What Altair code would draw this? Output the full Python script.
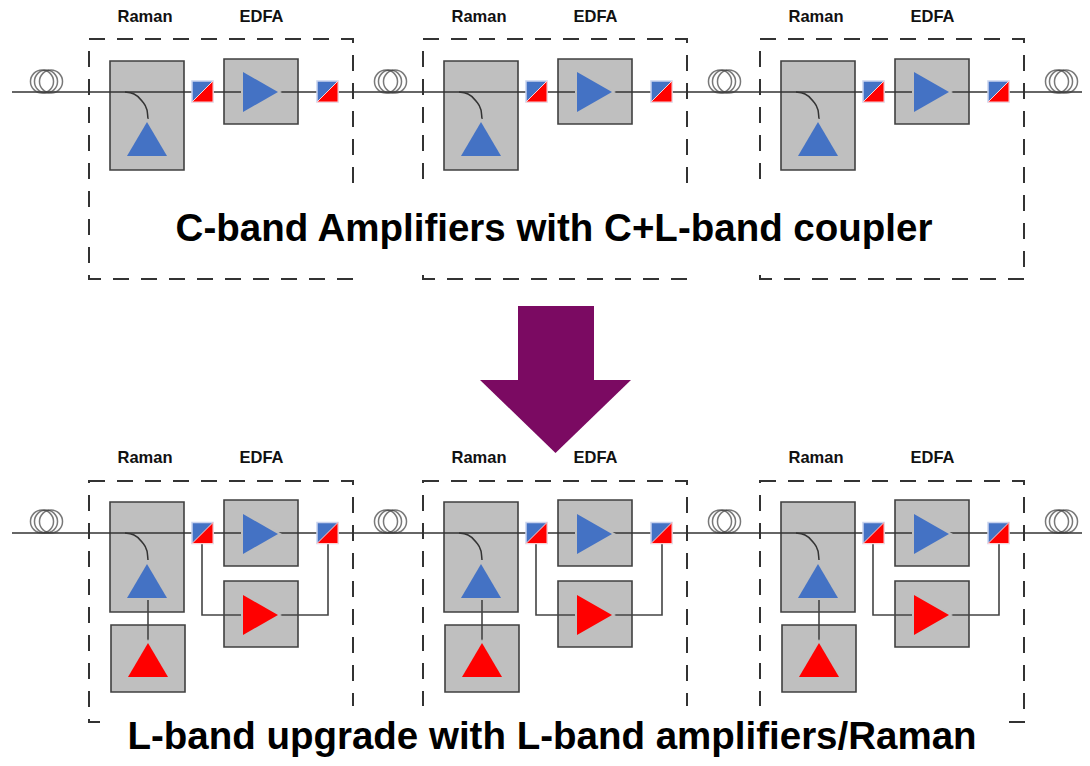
import altair as alt
import pandas as pd

# module offsets and rows
offsets = [0, 334, 671]
coil_x = [46, 390, 724, 1061]
coil_dx = [-4, 0, 5]
line_y = [92, 533]
coil_y = [81.5, 521.5]

BLUE, RED, GREY, DARK = "#4472C4", "#FF0000", "#BFBFBF", "#333333"
PURPLE = "#7B0A62"

# rectangles: x, x2, y, y2 for the first module
dash_top = (89, 353, 39, 279)
dash_bot = (89, 353, 481, 722)
grey_top = [(110, 184, 61, 170), (224, 298, 59, 124)]
grey_bot = [(110, 184, 502, 612), (224, 298, 500, 566), (224, 298, 581, 647), (111, 185, 625, 692)]
masks = [(100, 1012, 191, 267), (100, 1005, 706, 766)]
shaft = [(518, 594, 306, 381)]

split_x = [202.5, 327.5]
split_y = [91.5, 533]
split_size = 21

tri_up = [(147, 139, BLUE), (147, 581, BLUE), (148, 660, RED)]
tri_right = [(260.5, 92, BLUE), (260.5, 534, BLUE), (260.5, 615, RED)]
arrow_head = [(555.5, 416.5)]

arc_x = [125, 134, 142, 147, 148]
arc_rel_y = [0, 2, 9, 18, 27]

l_path_x = [202, 202, 328, 328]
l_path_y = [544, 615, 615, 544]
feed_x = [148, 148]
feed_y = [598, 643]

labels = [("Raman", 145, 17), ("EDFA", 261.5, 17), ("Raman", 145, 458), ("EDFA", 261.5, 458)]
titles = [("C-band Amplifiers with C+L-band coupler", 554, 229, 38.5),
          ("L-band upgrade with L-band amplifiers/Raman", 552, 737, 38.5)]

xs = alt.Scale(domain=[8, 1082], nice=False, zero=False)
ys = alt.Scale(domain=[758, 8], nice=False, zero=False)
X = alt.X("x:Q", scale=xs, axis=None)
Y = alt.Y("y:Q", scale=ys, axis=None)


def rect_df(rows):
    return pd.DataFrame(rows, columns=["x", "x2", "y", "y2"])


def rects(rows, **mark):
    return alt.Chart(rect_df(rows)).mark_rect(**mark).encode(x=X, x2="x2:Q", y=Y, y2="y2:Q")


def shift(r, d):
    return (r[0] + d, r[1] + d, r[2], r[3])


dash_rows = [shift(dash_top, d) for d in offsets] + [shift(dash_bot, d) for d in offsets]
grey_rows = [shift(r, d) for d in offsets for r in grey_top + grey_bot]

dash_layer = rects(dash_rows, fillOpacity=0, stroke=DARK, strokeWidth=2, strokeDash=[16, 12])
mask_layer = rects(masks, fill="white")
grey_layer = rects(grey_rows, fill=GREY, stroke="#404040", strokeWidth=1.6)
shaft_layer = rects(shaft, fill=PURPLE)

main_line = alt.Chart(pd.DataFrame({"x": [12] * 2, "x2": [1090] * 2, "y": line_y})).mark_rule(
    color=DARK, strokeWidth=1.5).encode(x=X, x2="x2:Q", y=Y)

coil_rows = [{"x": c + d, "y": y} for c in coil_x for d in coil_dx for y in coil_y]
coil_layer = alt.Chart(pd.DataFrame(coil_rows)).mark_point(
    shape="circle", size=531, filled=False, stroke="#404040", strokeWidth=1.5).encode(x=X, y=Y)

arc_rows = []
for r, ly in enumerate(line_y):
    for d in offsets:
        for ax, ay in zip(arc_x, arc_rel_y):
            arc_rows.append({"x": ax + d, "y": ly + ay, "k": f"{r}-{d}"})
arc_layer = alt.Chart(pd.DataFrame(arc_rows)).mark_line(
    color=DARK, strokeWidth=1.5, interpolate="monotone").encode(x=X, y=Y, detail="k:N", order=alt.Order("y:Q"))

poly_rows = []
for d in offsets:
    for i, (px, py) in enumerate(zip(l_path_x, l_path_y)):
        poly_rows.append({"x": px + d, "y": py, "k": f"l{d}", "o": i})
    for i, (px, py) in enumerate(zip(feed_x, feed_y)):
        poly_rows.append({"x": px + d, "y": py, "k": f"f{d}", "o": i})
poly_layer = alt.Chart(pd.DataFrame(poly_rows)).mark_line(
    color="#444444", strokeWidth=1.6).encode(x=X, y=Y, detail="k:N", order="o:Q")


def sym(rows, path, size):
    df = pd.DataFrame(rows)
    halo = alt.Chart(df).mark_point(
        shape=path, size=size, filled=True, opacity=1, fill=GREY, stroke=GREY, strokeWidth=4
    ).encode(x=X, y=Y)
    body = alt.Chart(df).mark_point(
        shape=path, size=size, filled=True, opacity=1, strokeWidth=0
    ).encode(x=X, y=Y, fill=alt.Fill("c:N", scale=None))
    return halo + body


up_rows = [{"x": x + d, "y": y, "c": c} for d in offsets for x, y, c in tri_up]
right_rows = [{"x": x + d, "y": y, "c": c} for d in offsets for x, y, c in tri_right]
up_layer = sym(up_rows, "M -1 0.85 L 1 0.85 L 0 -0.85 Z", 1600)
right_layer = sym(right_rows, "M -0.875 -1 L 0.875 0 L -0.875 1 Z", 1600)

head_layer = alt.Chart(pd.DataFrame([{"x": a, "y": b} for a, b in arrow_head])).mark_point(
    shape="M -1 -0.483 L 1 -0.483 L 0 0.483 Z", size=151 ** 2, filled=True, opacity=1, color=PURPLE
).encode(x=X, y=Y)

split_rows = [{"x": sx + d, "y": sy} for d in offsets for sx in split_x for sy in split_y]
split_df = pd.DataFrame(split_rows)
split_blue = alt.Chart(split_df).mark_point(
    shape="square", size=split_size ** 2, filled=True, opacity=1, fill=BLUE, stroke="#C9D3EE", strokeWidth=1.5
).encode(x=X, y=Y)
split_red = alt.Chart(split_df).mark_point(
    shape="M 1 -1 L 1 1 L -1 1 Z", size=split_size ** 2, filled=True, opacity=1, fill=RED, stroke="#FFD0D0", strokeWidth=1
).encode(x=X, y=Y)

label_rows = [{"x": x + d, "y": y, "t": t} for d in offsets for t, x, y in labels]
label_layer = alt.Chart(pd.DataFrame(label_rows)).mark_text(
    font="Liberation Sans", fontWeight="bold", fontSize=16.5, color="#111111", baseline="middle", align="center"
).encode(x=X, y=Y, text="t:N")

title_layers = [
    alt.Chart(pd.DataFrame([{"x": x, "y": y, "t": t}])).mark_text(
        font="Liberation Sans", fontWeight="bold", fontSize=s, color="#000000", baseline="middle", align="center"
    ).encode(x=X, y=Y, text="t:N")
    for t, x, y, s in titles
]

chart = alt.layer(
    dash_layer, mask_layer, grey_layer, main_line, arc_layer, poly_layer, coil_layer,
    up_layer, right_layer, split_blue, split_red, shaft_layer, head_layer, label_layer, *title_layers
).properties(
    width=1074, height=750, padding=0, autosize=alt.AutoSizeParams(type="none")
).configure_view(stroke=None)

chart.save("out.html", embed_options={"renderer": "svg", "actions": False})
